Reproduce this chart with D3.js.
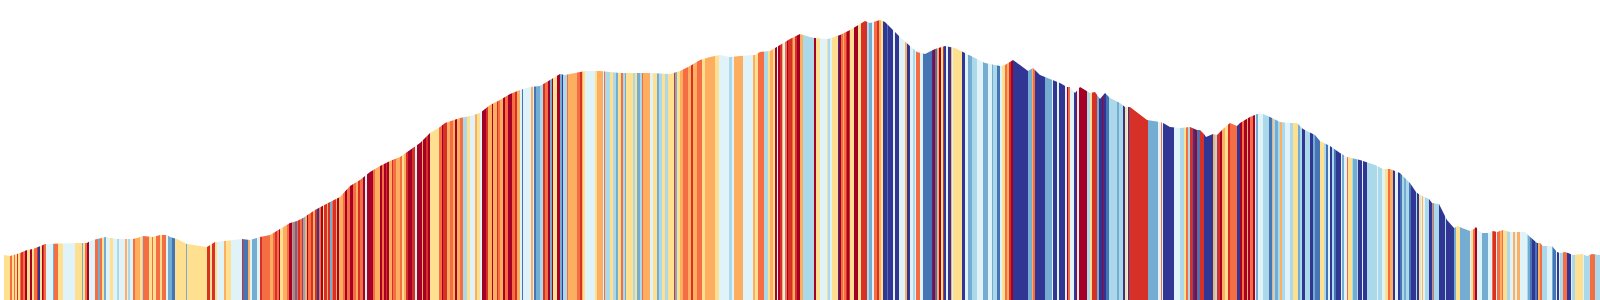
<!DOCTYPE html>
<html>
<head>
<meta charset="utf-8">
<script src="https://cdn.jsdelivr.net/npm/d3@7"></script>
<style>
  html, body { margin: 0; padding: 0; background: #fff; }
  svg { display: block; }
</style>
</head>
<body>
<script>
// chart size
var w = 1600, h = 300;

// elevation profile: distance (km) and elevation (m)
var profileKm = [0.4, 1.0, 2.0, 2.7, 3.3, 4.3, 4.5, 7.7, 8.7, 9.0, 9.7, 10.2, 10.5, 11.7, 13.3, 13.7, 14.3, 15.3, 16.0, 16.7,
    17.0, 17.7, 18.7, 20.0, 20.7, 21.5, 22.5, 24.2, 25.0, 26.0, 27.0, 28.0, 29.0, 29.7, 30.3, 31.5, 33.0, 34.0, 35.0, 36.0,
    37.0, 38.0, 39.0, 40.0, 41.0, 42.0, 43.0, 44.0, 44.5, 46.0, 47.0, 48.0, 49.0, 50.0, 51.0, 52.0, 53.0, 54.0, 55.0, 56.0,
    56.5, 57.5, 58.5, 60.0, 62.0, 65.0, 67.0, 68.0, 69.0, 70.0, 71.0, 72.0, 73.0, 74.0, 75.5, 76.0, 77.0, 77.5, 78.0, 79.0,
    80.0, 81.0, 81.5, 82.8, 84.0, 85.0, 86.0, 86.5, 87.0, 88.0, 88.5, 89.5, 90.0, 91.0, 91.7, 92.5, 93.5, 94.5, 95.5, 96.5,
    97.5, 98.5, 100.0, 100.5, 101.3, 102.0, 102.8, 103.3, 104.0, 105.0, 106.0, 106.7, 107.0, 107.5, 108.0, 109.0, 109.5, 110.0, 110.5, 111.0,
    112.0, 112.5, 113.0, 114.7, 116.0, 116.3, 117.0, 118.0, 119.0, 119.7, 120.0, 120.4, 120.6, 121.3, 121.7, 122.3, 123.0, 123.7, 124.0, 125.0,
    125.7, 126.3, 127.0, 128.0, 129.0, 129.7, 130.3, 131.5, 132.0, 133.0, 134.0, 134.7, 136.0, 137.5, 138.3, 139.0, 140.0, 141.0, 141.6, 142.0,
    142.9, 143.2, 143.9, 144.2, 144.7, 145.4, 145.8, 146.2, 147.0, 147.4, 147.6, 147.8, 148.2, 148.8, 149.3, 149.7, 150.3, 151.0, 152.5, 152.8,
    153.7, 154.0, 154.3, 155.2, 155.7, 156.0, 156.5, 156.8, 157.3, 158.2, 158.7, 159.2, 160.0];
var profileElev = [450, 440, 470, 500, 510, 550, 560, 570, 570, 590, 610, 620, 630, 610, 610, 620, 640, 630, 650, 650,
    630, 610, 560, 540, 530, 580, 590, 610, 600, 630, 650, 710, 770, 790, 820, 900, 980, 1030, 1140, 1200,
    1280, 1340, 1390, 1430, 1500, 1570, 1670, 1730, 1770, 1820, 1840, 1870, 1950, 2000, 2060, 2100, 2130, 2140, 2200, 2260,
    2250, 2270, 2290, 2290, 2270, 2270, 2260, 2290, 2340, 2400, 2430, 2450, 2430, 2440, 2450, 2480, 2490, 2520, 2550, 2610,
    2660, 2630, 2620, 2610, 2650, 2700, 2760, 2790, 2770, 2800, 2780, 2680, 2630, 2540, 2480, 2460, 2510, 2540, 2520, 2470,
    2420, 2370, 2340, 2350, 2400, 2350, 2290, 2320, 2250, 2210, 2170, 2130, 2130, 2070, 2130, 2070, 2080, 2010, 2070, 2020,
    1970, 1930, 1930, 1800, 1780, 1770, 1730, 1720, 1730, 1700, 1700, 1660, 1630, 1660, 1650, 1710, 1770, 1740, 1770, 1830,
    1860, 1860, 1830, 1780, 1770, 1770, 1710, 1650, 1590, 1540, 1470, 1430, 1400, 1350, 1310, 1310, 1270, 1170, 1080, 1050,
    1010, 970, 960, 900, 800, 720, 740, 720, 690, 710, 730, 700, 670, 670, 690, 680, 700, 680, 680, 650,
    570, 570, 540, 540, 480, 470, 480, 470, 450, 460, 440, 460, 450];

// colour stripes: end distance (km) of each stripe and its class (0 = darkest red ... 9 = darkest blue)
var stripeStart = 0.4;
var stripeEnd = [1.0, 1.2, 1.4, 1.5, 1.7, 1.8, 2.0, 2.1, 2.3, 2.5, 2.7, 3.0, 3.2, 3.4, 3.7, 3.8, 4.0, 4.2, 4.3, 4.4,
    4.6, 5.3, 5.4, 5.8, 6.3, 7.5, 8.2, 8.3, 8.5, 8.7, 8.9, 9.5, 9.8, 10.0, 10.2, 10.4, 10.6, 11.0, 11.3, 11.7,
    11.9, 12.5, 12.7, 12.8, 13.0, 13.3, 13.5, 14.0, 14.2, 14.3, 14.9, 15.2, 15.3, 15.6, 16.0, 16.2, 16.6, 16.8, 17.2, 17.5,
    18.6, 18.7, 20.0,
    20.7, 21.0, 21.2, 21.5, 21.7, 22.4, 22.6, 23.1, 24.2, 24.3, 24.8, 25.0, 25.2, 25.7, 26.0, 26.2, 27.0, 27.3, 27.5, 27.7,
    27.9, 28.0, 28.3, 28.7, 28.9, 29.2, 29.3, 29.5, 29.7, 29.8, 30.0, 30.2, 30.3, 30.5, 30.7, 30.8, 31.1, 31.3, 31.5, 31.7,
    31.9, 32.1, 32.3, 32.4, 32.7, 32.8, 33.0, 33.2, 33.3, 33.6, 33.7, 33.9, 34.3, 34.5, 34.7, 35.0, 35.3, 35.6, 35.8, 36.0,
    36.3, 36.5, 36.7, 37.3, 37.5, 38.0, 38.2, 38.4, 38.6, 38.7, 38.9, 39.2, 39.3, 39.6, 40.0,
    40.2, 40.4, 40.6, 40.8, 41.2, 41.5, 41.7, 42.2, 42.3, 42.6, 42.8, 43.0, 43.9, 44.2, 44.3, 44.7, 45.0, 45.3, 45.5, 45.7,
    46.0, 46.3, 46.7, 47.0, 47.5, 47.7, 48.0, 48.2, 48.6, 48.8, 49.2, 49.3, 49.7, 49.8, 50.0, 50.3, 50.5, 50.8, 51.2, 51.5,
    51.7, 52.0, 52.2, 52.3, 53.1, 53.3, 53.4, 53.6, 54.0, 54.3, 54.5, 54.8, 55.0, 55.2, 55.3, 55.7, 56.0, 56.2, 56.3, 56.7,
    56.8, 57.7, 58.0, 58.2, 58.3, 58.5, 59.5, 59.7, 60.0,
    60.3, 60.4, 60.5, 61.0, 61.3, 61.6, 61.8, 62.1, 62.3, 62.5, 62.6, 63.3, 63.5, 63.7, 64.0, 64.2, 64.3, 65.0, 65.3, 65.7,
    65.9, 66.2, 66.5, 66.8, 67.4, 67.5, 67.7, 68.0, 68.3, 68.8, 69.1, 69.3, 69.7, 70.2, 70.5, 71.5, 71.9, 72.9, 73.2, 73.4,
    74.3, 75.3, 75.5, 75.8, 76.4, 76.8, 77.0, 77.3, 77.5, 77.7, 77.8, 78.0, 78.2, 78.3, 78.5, 78.7, 78.8, 79.2, 79.3, 79.5,
    79.7, 80.0,
    80.3, 81.4, 81.6, 82.0, 82.7, 82.8, 83.0, 83.2, 83.8, 83.9, 84.1, 84.3, 84.4, 84.6, 84.7, 84.9, 85.0, 85.4, 85.8, 86.1,
    86.7, 86.9, 87.2, 87.4, 87.7, 87.9, 88.1, 88.3, 88.7, 88.8, 89.3, 89.5, 89.9, 90.5, 90.7, 91.0, 91.3, 91.5, 91.6, 92.0,
    92.3, 93.2, 93.3, 93.5, 93.7, 93.9, 94.1, 94.3, 94.4, 94.6, 94.8, 95.1, 95.2, 95.3, 96.2, 96.5, 96.8, 97.2, 97.7, 98.3,
    98.8, 99.2, 99.3, 99.7, 100.0,
    100.2, 100.5, 100.7, 100.9, 101.1, 101.3, 102.8, 103.2, 103.3, 103.5, 104.5, 105.2, 105.3, 105.7, 105.9, 106.5, 106.7, 106.8, 107.0, 107.4,
    107.6, 107.7, 107.9, 108.7, 109.0, 109.2, 109.7, 109.9, 110.2, 110.3, 110.6, 110.9, 111.7, 111.9, 112.3, 112.5, 112.7, 112.8, 112.9, 114.8,
    115.8, 116.1, 116.2, 116.3, 117.4, 118.0, 118.4, 118.6, 118.8, 119.0, 119.3, 119.5, 119.7, 120.0,
    120.4, 121.3, 121.5, 121.7, 122.0, 122.2, 122.5, 122.8, 123.0, 123.7, 124.0, 124.2, 124.4, 124.7, 124.8, 125.0, 125.3, 125.5, 125.6, 125.8,
    126.3, 126.9, 127.2, 127.3, 127.5, 127.8, 128.0, 128.2, 128.5, 129.0, 129.3, 129.8, 130.0, 130.2, 130.5, 131.0, 131.3, 131.5, 132.0, 132.4,
    132.6, 132.8, 133.0, 133.2, 133.4, 133.6, 134.1, 134.2, 134.4, 134.7, 134.8, 135.2, 135.3, 135.7, 135.8, 136.2, 136.3, 136.7, 137.7, 137.8,
    138.2, 138.5, 138.8, 139.0, 139.3, 139.5, 139.8, 140.0,
    140.2, 140.4, 140.6, 140.9, 141.1, 141.6, 141.7, 141.9, 142.1, 142.2, 142.3, 142.5, 142.9, 143.2, 143.3, 143.4, 143.9, 144.5, 144.6, 145.4,
    145.6, 146.0, 147.0, 147.1, 147.3, 147.5, 147.7, 148.2, 148.8, 149.2, 149.3, 149.6, 149.7, 150.0, 150.2, 150.3, 150.7, 151.0, 151.3, 151.5,
    151.7, 152.0, 152.7, 152.8, 153.0, 153.2, 153.5, 153.7, 153.8, 154.0, 154.2, 154.7, 155.2, 155.3, 155.6, 155.7, 155.9, 156.0, 156.3, 156.7,
    157.1, 157.2, 157.5, 158.3, 158.4, 159.0, 159.5, 160.0];
var stripeLevel = [4, 2, 4, 2, 4, 1, 4, 2, 1, 2, 0, 4, 0, 4, 2, 1, 9, 4, 0, 1,
    2, 5, 7, 2, 4, 5, 4, 7, 4, 2, 0, 5, 2, 7, 2, 4, 7, 5, 4, 5,
    6, 5, 3, 5, 6, 5, 2, 3, 4, 6, 2, 4, 2, 4, 2, 4, 2, 5, 7, 8,
    4, 7, 4,
    4, 1, 4, 1, 4, 5, 3, 4, 5, 1, 8, 3, 5, 7, 5, 1, 2, 3, 2, 1,
    2, 0, 4, 3, 2, 0, 7, 2, 8, 2, 1, 2, 1, 7, 3, 0, 2, 1, 3, 1,
    9, 2, 0, 4, 1, 3, 1, 7, 2, 1, 3, 0, 3, 2, 0, 2, 0, 2, 3, 1,
    2, 0, 5, 0, 2, 3, 0, 2, 0, 1, 0, 3, 1, 2, 3,
    2, 4, 3, 1, 0, 1, 5, 0, 3, 0, 1, 0, 4, 2, 0, 1, 3, 2, 3, 0,
    3, 2, 6, 4, 5, 3, 4, 5, 0, 1, 3, 0, 3, 1, 2, 3, 0, 2, 0, 2,
    1, 3, 5, 8, 5, 3, 5, 8, 7, 6, 1, 2, 0, 7, 0, 4, 0, 7, 9, 6,
    2, 3, 2, 1, 3, 4, 5, 4, 3,
    3, 5, 2, 6, 4, 6, 7, 4, 2, 6, 7, 4, 6, 4, 7, 6, 2, 3, 5, 4,
    7, 6, 4, 6, 4, 1, 7, 4, 3, 2, 3, 1, 3, 2, 4, 3, 4, 5, 6, 5,
    3, 5, 3, 4, 2, 6, 4, 3, 4, 0, 5, 0, 1, 3, 5, 2, 0, 1, 2, 3,
    1, 0,
    3, 6, 0, 4, 5, 4, 6, 5, 4, 9, 0, 2, 3, 2, 1, 0, 1, 4, 0, 4,
    1, 6, 7, 5, 2, 1, 3, 4, 9, 8, 9, 5, 9, 5, 3, 9, 5, 6, 5, 2,
    5, 8, 9, 0, 8, 3, 0, 4, 1, 9, 5, 9, 3, 5, 4, 9, 5, 7, 6, 5,
    7, 5, 7, 6, 8,
    5, 4, 2, 3, 1, 0, 9, 7, 3, 2, 9, 7, 5, 9, 5, 9, 5, 0, 2, 5,
    9, 0, 5, 0, 6, 4, 1, 7, 9, 0, 9, 8, 6, 7, 6, 9, 4, 5, 9, 1,
    7, 5, 2, 5, 9, 5, 6, 4, 2, 6, 1, 9, 0, 8,
    1, 9, 3, 6, 1, 0, 3, 4, 1, 2, 9, 0, 2, 0, 3, 0, 2, 0, 5, 7,
    5, 6, 8, 3, 6, 7, 6, 3, 6, 5, 6, 4, 7, 6, 9, 6, 9, 7, 8, 4,
    6, 8, 5, 9, 6, 8, 9, 5, 7, 5, 2, 4, 6, 7, 6, 9, 5, 9, 6, 5,
    6, 5, 4, 2, 3, 9, 5, 9,
    8, 6, 7, 6, 8, 9, 6, 9, 4, 5, 3, 5, 6, 9, 7, 2, 6, 9, 6, 9,
    7, 4, 7, 5, 4, 2, 0, 5, 7, 5, 2, 1, 5, 2, 3, 2, 4, 6, 5, 3,
    5, 3, 5, 6, 7, 8, 9, 8, 9, 3, 2, 6, 5, 7, 8, 5, 9, 5, 6, 2,
    9, 5, 6, 4, 5, 6, 2, 6];

window.onload = function(){
    var svg = d3.select("body")
        .append("svg")
        .attr("width", w)
        .attr("height", h);

    // distance -> x, elevation -> y
    var x = d3.scaleLinear()
        .domain([0, 160])
        .range([0, 1600]);
    var y = d3.scaleLinear()
        .domain([0, 3000])
        .range([300, 0]);
    var color = d3.scaleOrdinal()
        .domain(d3.range(10))
        .range(d3.schemeRdYlBu[10]);

    var profile = profileKm.map(function(d, i){
        return { km: d, elev: profileElev[i] };
    });

    // the profile shape clips the stripes
    var area = d3.area()
        .x(function(d){ return x(d.km); })
        .y0(h)
        .y1(function(d){ return y(d.elev); });

    svg.append("clipPath")
        .attr("id", "profileClip")
        .append("path")
        .datum(profile)
        .attr("d", area);

    var stripes = stripeEnd.map(function(d, i){
        return {
            start: i === 0 ? stripeStart : stripeEnd[i - 1],
            end: d,
            level: stripeLevel[i]
        };
    });

    svg.append("g")
        .attr("clip-path", "url(#profileClip)")
        .selectAll(".stripe")
        .data(stripes)
        .enter()
        .append("rect")
        .attr("class", "stripe")
        .attr("x", function(d){ return x(d.start); })
        .attr("width", function(d){ return x(d.end) - x(d.start); })
        .attr("y", 0)
        .attr("height", h)
        .attr("shape-rendering", "crispEdges")
        .style("fill", function(d){ return color(d.level); });
};
</script>
</body>
</html>
